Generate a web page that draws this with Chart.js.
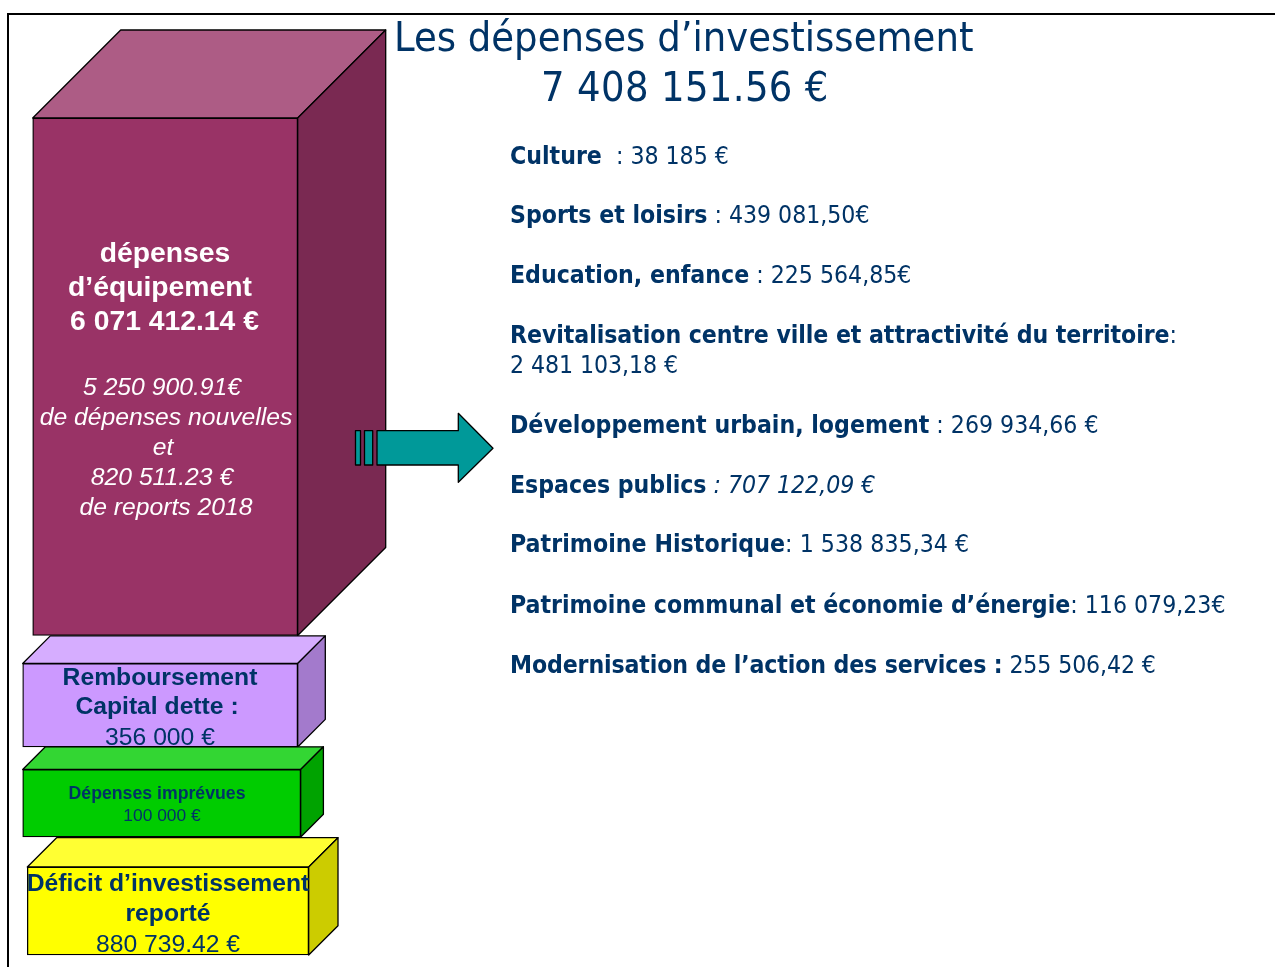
<!DOCTYPE html>
<html lang="fr">
<head>
<meta charset="utf-8">
<title>Les dépenses d'investissement</title>
<script src="https://cdn.jsdelivr.net/npm/chart.js@4/dist/chart.umd.min.js"></script>
<style>
    html, body { margin: 0; padding: 0; background: #fff; overflow: hidden; }
    #slide { position: relative; width: 1275px; height: 967px; }
    #boxes { position: absolute; left: 0; top: 0; }
    #frame { position: absolute; left: 7px; top: 13px; width: 1268px; height: 954px; border-left: 2.5px solid #000; border-top: 2.5px solid #000; box-sizing: border-box; }
    .txt { position: absolute; white-space: pre; color: #003366; line-height: 1; }
    .mid { transform: translate(-50%, -50%); font-family: "Liberation Sans", Arial, sans-serif; }
    .side { font-family: "DejaVu Sans Condensed", "DejaVu Sans", sans-serif; }
</style>
</head>
<body>
<div id="slide">
    <canvas id="boxes" width="1275" height="967"></canvas>
    <div id="frame"></div>
    <div id="labels"></div>
</div>

<script>
// Data
const chartTitle = ['Les dépenses d\u2019investissement', '7 408 151.56 €'];

const boxLabels = ['dépenses d\u2019équipement', 'Remboursement Capital dette', 'Dépenses imprévues', 'Déficit d\u2019investissement reporté'];
const boxLow  = [331.5, 220, 130, 12];
const boxHigh = [849, 303.5, 197.5, 100];

const listNames = [
    'Culture', 'Sports et loisirs', 'Education, enfance',
    'Revitalisation centre ville et attractivité du territoire',
    'Développement urbain, logement', 'Espaces publics', 'Patrimoine Historique',
    'Patrimoine communal et économie d\u2019énergie', 'Modernisation de l\u2019action des services :'
];
const listAmounts = [
    '  : 38 185 €', ' : 439 081,50€', ' : 225 564,85€',
    ':\n2 481 103,18 €',
    ' : 269 934,66 €', ' : 707 122,09 €', ': 1 538 835,34 €',
    ': 116 079,23€', ' 255 506,42 €'
];

// Layout and colours
const boxStyles = [
    { left: 32.7, right: 297.7, depth: 88,   front: '#993366', top: '#AD5C85', side: '#7A2952' },
    { left: 22.7, right: 297.7, depth: 27.6, front: '#CC99FF', top: '#D6ADFF', side: '#A37ACC' },
    { left: 22.7, right: 300.7, depth: 22.7, front: '#00CC00', top: '#33D633', side: '#00A300' },
    { left: 27.3, right: 308.7, depth: 29.3, front: '#FFFF00', top: '#FFFF33', side: '#CCCC00' }
];
const listRowsY = [155, 214, 274, 334, 424, 484, 543, 604, 664];
const listTracking = [0, -0.02, 0, -0.06, 0, -0.03, 0.05, 0, -0.12];

// text, centre x, centre y, size, weight, italic, colour
const boxText = [
    ['dépenses', 165, 252, 28.3, 700, 0, '#fff'],
    ['d\u2019équipement', 160, 286, 28.3, 700, 0, '#fff'],
    ['6 071 412.14 €', 164.5, 320, 28.3, 700, 0, '#fff'],
    ['5 250 900.91€', 162, 387, 24.7, 400, 1, '#fff'],
    ['de dépenses nouvelles', 166, 417, 24.7, 400, 1, '#fff'],
    ['et', 163, 447, 24.7, 400, 1, '#fff'],
    ['820 511.23 €', 162, 477, 24.7, 400, 1, '#fff'],
    ['de reports 2018', 166, 507, 24.7, 400, 1, '#fff'],
    ['Remboursement', 160, 677, 24.7, 700, 0, '#003366'],
    ['Capital dette :', 157, 706, 24.7, 700, 0, '#003366'],
    ['356 000 €', 160, 737, 24.7, 400, 0, '#003366'],
    ['Dépenses imprévues', 157, 794, 17.7, 700, 0, '#003366'],
    ['100 000 €', 162, 816, 17.4, 400, 0, '#003366'],
    ['Déficit d\u2019investissement', 168, 883, 24.7, 700, 0, '#003366'],
    ['reporté', 168, 913, 24.7, 700, 0, '#003366'],
    ['880 739.42 €', 168, 944, 24.7, 400, 0, '#003366']
];

// =========================================================
// 1. 3D faces and arrow, taken from the bar elements
// =========================================================
const boxFaces = {
    id: 'boxFaces',
    beforeDatasetsDraw(chart) {
        const c = chart.ctx;
        boxStyles.forEach((st, i) => {
            const bar = chart.getDatasetMeta(i).data[0];
            const l = bar.x - bar.width / 2, r = bar.x + bar.width / 2;
            const t = bar.y, b = bar.base, d = st.depth;
            c.lineWidth = 1.3;
            c.strokeStyle = '#000';
            c.lineJoin = 'round';
            poly(c, [[l, t], [l + d, t - d], [r + d, t - d], [r, t]], st.top);
            poly(c, [[r, t], [r + d, t - d], [r + d, b - d], [r, b]], st.side);
        });
    },
    afterDatasetsDraw(chart) {
        const c = chart.ctx;
        c.lineWidth = 1.3;
        c.strokeStyle = '#000';
        poly(c, [[355.5, 430.7], [360.5, 430.7], [360.5, 465], [355.5, 465]], '#009999');
        poly(c, [[364.5, 430.7], [372.7, 430.7], [372.7, 465], [364.5, 465]], '#009999');
        poly(c, [[377, 430.7], [458.3, 430.7], [458.3, 413.3], [493, 448.3], [458.3, 482.3], [458.3, 465], [377, 465]], '#009999');
    }
};

function poly(c, pts, fill) {
    c.beginPath();
    pts.forEach((p, i) => (i ? c.lineTo(p[0], p[1]) : c.moveTo(p[0], p[1])));
    c.closePath();
    c.fillStyle = fill;
    c.fill();
    c.stroke();
}

// =========================================================
// 2. Chart
// =========================================================
new Chart(document.getElementById('boxes'), {
    type: 'bar',
    data: {
        datasets: boxLabels.map((name, i) => ({
            label: name,
            data: [{ x: (boxStyles[i].left + boxStyles[i].right) / 2, y: [boxLow[i], boxHigh[i]] }],
            barThickness: boxStyles[i].right - boxStyles[i].left,
            grouped: false,
            backgroundColor: boxStyles[i].front,
            borderColor: '#000',
            borderWidth: 1.3,
            borderSkipped: false
        }))
    },
    options: {
        responsive: false,
        animation: false,
        layout: { padding: 0 },
        plugins: { legend: { display: false }, tooltip: { enabled: false } },
        scales: {
            x: { type: 'linear', display: false, offset: false, min: 0, max: 1275 },
            y: { type: 'linear', display: false, min: 0, max: 967 }
        }
    },
    plugins: [boxFaces]
});

// =========================================================
// 3. Real text on top
// =========================================================
const labels = document.getElementById('labels');

function addText(cls, css, text, italic) {
    const el = document.createElement('div');
    el.className = 'txt ' + cls;
    el.style.cssText = css;
    el.textContent = text;
    if (italic) el.style.fontStyle = 'italic';
    labels.appendChild(el);
    return el;
}

boxText.forEach(t => {
    addText('mid', `left:${t[1]}px;top:${t[2]}px;font-size:${t[3]}px;font-weight:${t[4]};color:${t[6]}`, t[0], t[5]);
});

addText('side', 'left:394px;top:16.5px;font-size:41.2px', chartTitle[0]);
addText('side', 'left:541px;top:66.5px;font-size:41.2px;letter-spacing:0.36px', chartTitle[1]);

listNames.forEach((name, i) => {
    const row = addText('side', `left:510px;top:${listRowsY[i] - 14}px;font-size:24.6px;line-height:30px;letter-spacing:${listTracking[i]}px`, '');
    const strong = document.createElement('b');
    strong.textContent = name;
    const rest = document.createElement('span');
    rest.textContent = listAmounts[i];
    if (name === 'Espaces publics') rest.style.fontStyle = 'italic';
    row.append(strong, rest);
});
</script>
</body>
</html>
